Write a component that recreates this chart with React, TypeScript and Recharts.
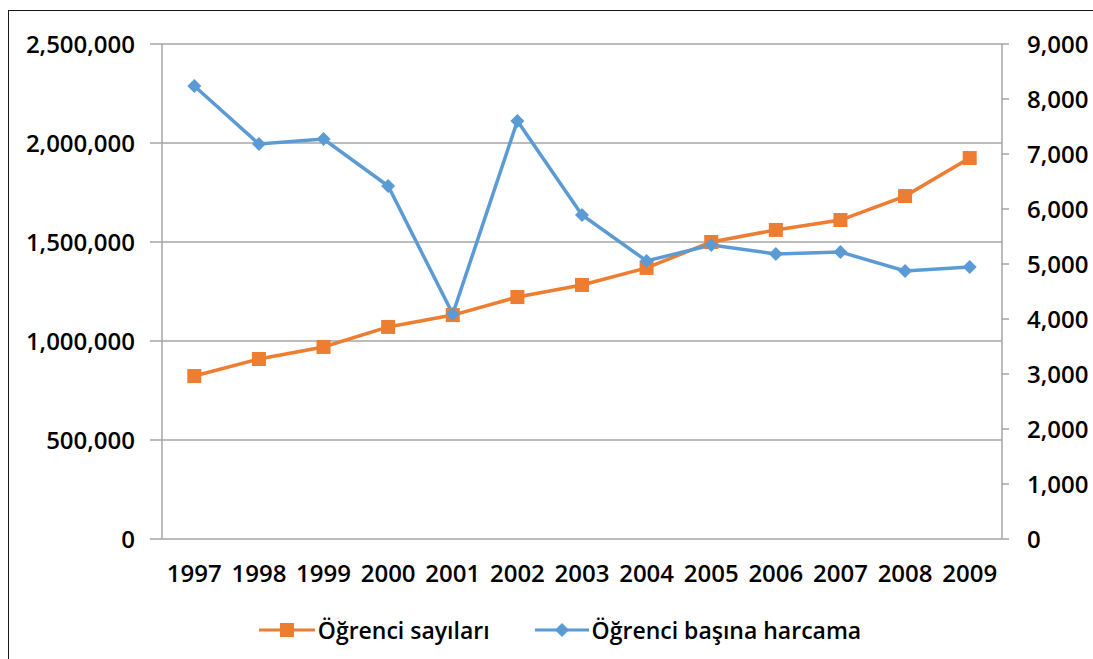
import { ComposedChart, Line, XAxis, YAxis, CartesianGrid, Legend } from 'recharts';

const years = ['1997', '1998', '1999', '2000', '2001', '2002', '2003', '2004', '2005', '2006', '2007', '2008', '2009'];
const studentCounts = [823000, 909000, 970000, 1071000, 1131000, 1222000, 1283000, 1369000, 1500000, 1561000, 1611000, 1732000, 1924000];
const spendingPerStudent = [8236, 7182, 7273, 6418, 4091, 7600, 5891, 5055, 5345, 5182, 5218, 4873, 4945];
const leftTicks = [0, 500000, 1000000, 1500000, 2000000, 2500000];
const rightTicks = [0, 1000, 2000, 3000, 4000, 5000, 6000, 7000, 8000, 9000];
const boundaryTicks = [0, 1, 2, 3, 4, 5, 6, 7, 8, 9, 10, 11, 12, 13];

const data = years.map((y, i) => ({
  year: y,
  idx: i + 0.5,
  ogrenci: studentCounts[i],
  harcama: spendingPerStudent[i],
}));

const ORANGE = '#ED7D31';
const BLUE = '#5B9BD5';
const GRID = '#a6a6a6';
const FONT = '"Open Sans", "Noto Sans", sans-serif';
const tickStyle = { fontFamily: FONT, fontSize: 24, fontWeight: 600, fill: '#000' };
const fmt = (v: number) => v.toLocaleString('en-US');

function LegendContent() {
  const textStyle = { fontFamily: FONT, fontSize: 23, fontWeight: 600, color: '#000' };
  return (
    <div style={{ display: 'flex', justifyContent: 'center', alignItems: 'center', gap: 45, paddingLeft: 27, paddingTop: 15 }}>
      <div style={{ display: 'flex', alignItems: 'center' }}>
        <svg width={56} height={20}>
          <line x1={0} y1={10} x2={56} y2={10} stroke={ORANGE} strokeWidth={3} />
          <rect x={21} y={3} width={14} height={14} fill={ORANGE} />
        </svg>
        <span style={{ ...textStyle, marginLeft: 3 }}>Öğrenci sayıları</span>
      </div>
      <div style={{ display: 'flex', alignItems: 'center' }}>
        <svg width={54} height={20}>
          <line x1={0} y1={10} x2={54} y2={10} stroke={BLUE} strokeWidth={3} />
          <polygon points="27,3 34,10 27,17 20,10" fill={BLUE} />
        </svg>
        <span style={{ ...textStyle, marginLeft: 3 }}>Öğrenci başına harcama</span>
      </div>
    </div>
  );
}

const Square = (props: any) => {
  const { cx, cy } = props;
  if (cx == null || cy == null) return null;
  return <rect x={cx - 7} y={cy - 7} width={14} height={14} fill={ORANGE} />;
};

const Diamond = (props: any) => {
  const { cx, cy } = props;
  if (cx == null || cy == null) return null;
  return <polygon points={`${cx},${cy - 7} ${cx + 7},${cy} ${cx},${cy + 7} ${cx - 7},${cy}`} fill={BLUE} />;
};

export default function App() {
  return (
    <div style={{ position: 'absolute', left: 0, top: 0, width: 1093, height: 659, background: '#fff', overflow: 'hidden' }}>
      <div
        style={{
          position: 'absolute',
          left: 8,
          top: 10,
          width: 1200,
          height: 800,
          border: '1.5px solid #1a1a1a',
        }}
      />
      <div style={{ position: 'absolute', left: 0, top: 0 }}>
        <ComposedChart width={1093} height={659} data={data} margin={{ top: 44, right: 0, bottom: 11, left: 0 }}>
          <CartesianGrid yAxisId="left" vertical={false} stroke={GRID} strokeWidth={1.5} />
          <XAxis
            xAxisId="ticks"
            type="number"
            dataKey="idx"
            domain={[0, 13]}
            ticks={boundaryTicks}
            tick={false}
            tickSize={8}
            height={0}
            axisLine={{ stroke: GRID, strokeWidth: 1.5 }}
            tickLine={{ stroke: GRID, strokeWidth: 1.5 }}
          />
          <XAxis
            xAxisId="cat"
            dataKey="year"
            scale="band"
            axisLine={false}
            tickLine={false}
            interval={0}
            height={60}
            tick={tickStyle}
            tickMargin={20}
          />
          <YAxis
            yAxisId="left"
            orientation="left"
            width={162}
            domain={[0, 2500000]}
            ticks={leftTicks}
            tickFormatter={fmt}
            tick={tickStyle}
            tickSize={12}
            tickMargin={15}
            axisLine={{ stroke: GRID, strokeWidth: 1.5 }}
            tickLine={{ stroke: GRID, strokeWidth: 1.5 }}
          />
          <YAxis
            yAxisId="right"
            orientation="right"
            width={91}
            domain={[0, 9000]}
            ticks={rightTicks}
            tickFormatter={fmt}
            tick={{ ...tickStyle, textAnchor: 'start' }}
            tickSize={7}
            tickMargin={18}
            axisLine={{ stroke: GRID, strokeWidth: 1.5 }}
            tickLine={{ stroke: GRID, strokeWidth: 1.5 }}
          />
          <Legend verticalAlign="bottom" height={49} content={<LegendContent />} />
          <Line
            xAxisId="cat"
            yAxisId="left"
            type="linear"
            dataKey="ogrenci"
            name="Öğrenci sayıları"
            stroke={ORANGE}
            strokeWidth={3.5}
            dot={<Square />}
            isAnimationActive={false}
          />
          <Line
            xAxisId="cat"
            yAxisId="right"
            type="linear"
            dataKey="harcama"
            name="Öğrenci başına harcama"
            stroke={BLUE}
            strokeWidth={3.5}
            dot={<Diamond />}
            isAnimationActive={false}
          />
        </ComposedChart>
      </div>
    </div>
  );
}
